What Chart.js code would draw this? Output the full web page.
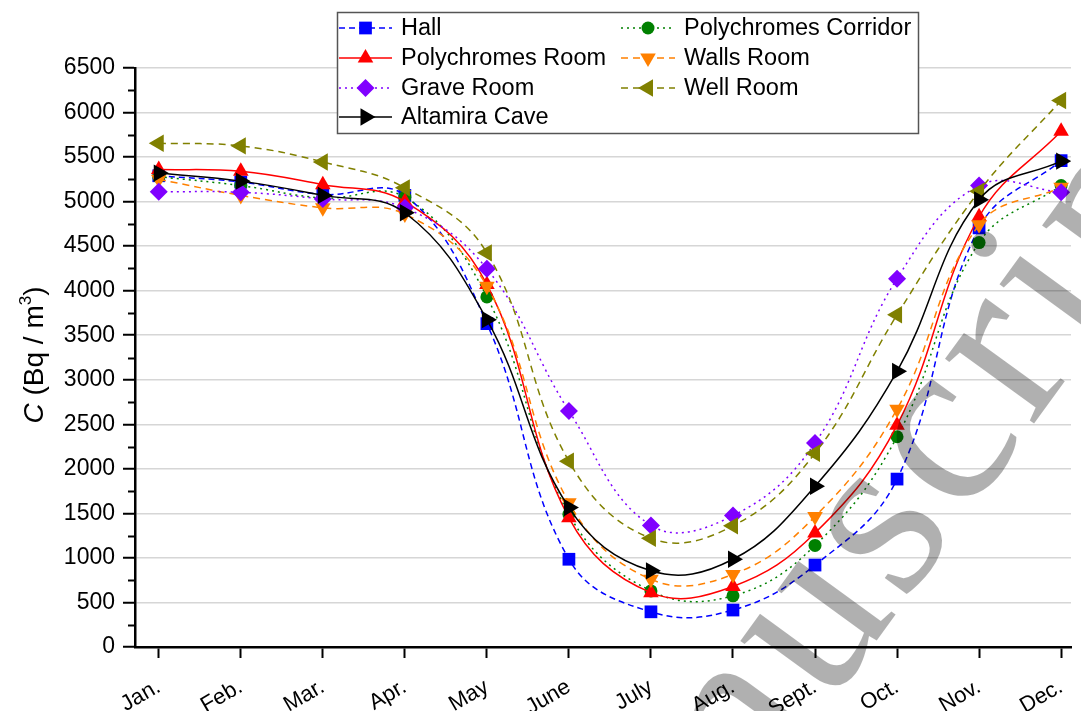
<!DOCTYPE html>
<html>
<head>
<meta charset="utf-8">
<script src="https://cdn.jsdelivr.net/npm/chart.js@4/dist/chart.umd.min.js"></script>
<style>
  html, body { margin: 0; padding: 0; background: #fff; overflow: hidden; }
  #wrap { width: 1081px; height: 711px; }
</style>
</head>
<body>
<div id="wrap"><canvas id="radonChart" width="1081" height="711"></canvas></div>
<script>
// monthly radon concentration, C (Bq / m3)
const months = ['Jan.', 'Feb.', 'Mar.', 'Apr.', 'May', 'June', 'July', 'Aug.', 'Sept.', 'Oct.', 'Nov.', 'Dec.'];
const hall      = [5290, 5220, 5080, 5070, 3630, 985, 395, 415, 920, 1885, 4705, 5460];
const corridor  = [5280, 5180, 5040, 5050, 3930, 1490, 630, 575, 1140, 2360, 4540, 5180];
const polyRoom  = [5360, 5340, 5190, 5000, 4070, 1450, 610, 680, 1280, 2490, 4830, 5790];
const wallsRoom = [5250, 5070, 4930, 4860, 4050, 1620, 760, 815, 1465, 2670, 4740, 5160];
const graveRoom = [5110, 5105, 5030, 4930, 4245, 2650, 1365, 1475, 2290, 4135, 5180, 5105];
const wellRoom  = [5655, 5625, 5445, 5155, 4425, 2085, 1220, 1360, 2175, 3730, 5115, 6135];
const altamira  = [5320, 5230, 5070, 4875, 3675, 1565, 855, 985, 1805, 3095, 5020, 5455];
const yTicks = [0, 500, 1000, 1500, 2000, 2500, 3000, 3500, 4000, 4500, 5000, 5500, 6000, 6500];

const FONT = '"Liberation Sans", Arial, sans-serif';

function toPoints(arr) {
    return arr.map((v, i) => ({ x: i + 1, y: v }));
}

// series styles, in legend order (row by row, two columns)
const series = [
    { label: 'Hall',                 data: hall,      color: '#0000ff', dash: [6, 4], style: 'rect',     radius: 9,  rot: 0 },
    { label: 'Polychromes Corridor', data: corridor,  color: '#008000', dash: [2, 4], style: 'circle',   radius: 6.5, rot: 0 },
    { label: 'Polychromes Room',     data: polyRoom,  color: '#ff0000', dash: [],     style: 'triangle', radius: 9,  rot: 0 },
    { label: 'Walls Room',           data: wallsRoom, color: '#ff8000', dash: [7, 5], style: 'triangle', radius: 9,  rot: 180 },
    { label: 'Grave Room',           data: graveRoom, color: '#8000ff', dash: [2, 4], style: 'rectRot',  radius: 9,  rot: 0 },
    { label: 'Well Room',            data: wellRoom,  color: '#808000', dash: [7, 5], style: 'triangle', radius: 10, rot: -90 },
    { label: 'Altamira Cave',        data: altamira,  color: '#000000', dash: [],     style: 'triangle', radius: 10, rot: 90 }
];

const datasets = series.map((s, i) => ({
    label: s.label,
    data: toPoints(s.data),
    borderColor: s.color,
    backgroundColor: s.color,
    borderWidth: 1.5,
    borderDash: s.dash,
    tension: 0.4,
    pointStyle: s.style,
    pointRadius: s.radius,
    pointRotation: s.rot,
    pointBackgroundColor: s.color,
    pointBorderColor: s.color,
    pointBorderWidth: 0,
    order: series.length - i
}));

// legend box, minor ticks, axis title and watermark
const extras = {
    id: 'extras',
    afterDraw(chart) {
        const ctx = chart.ctx;
        const y = chart.scales.y;
        const area = chart.chartArea;

        // minor y ticks
        ctx.save();
        ctx.strokeStyle = '#000';
        ctx.lineWidth = 2;
        for (let v = 250; v < 6500; v += 500) {
            const py = Math.round(y.getPixelForValue(v)) + 0.5;
            ctx.beginPath();
            ctx.moveTo(area.left - 7, py);
            ctx.lineTo(area.left, py);
            ctx.stroke();
        }
        ctx.restore();

        // y axis title: C (Bq / m3)
        ctx.save();
        ctx.translate(34, 355);
        ctx.rotate(-Math.PI / 2);
        ctx.fillStyle = '#000';
        ctx.textBaseline = 'alphabetic';
        const parts = [
            { t: 'C', f: 'italic 28px ' + FONT, dy: 0 },
            { t: ' (Bq / m', f: '28px ' + FONT, dy: 0 },
            { t: '3', f: '17px ' + FONT, dy: -12 },
            { t: ')', f: '28px ' + FONT, dy: 0 }
        ];
        let total = 0;
        parts.forEach(p => { ctx.font = p.f; p.w = ctx.measureText(p.t).width; total += p.w; });
        let x = -total / 2;
        parts.forEach(p => { ctx.font = p.f; ctx.fillText(p.t, x, 9 + p.dy); x += p.w; });
        ctx.restore();

        // legend
        ctx.save();
        ctx.fillStyle = '#fff';
        ctx.fillRect(337, 12, 582, 122);
        ctx.strokeStyle = '#555';
        ctx.lineWidth = 1.5;
        ctx.strokeRect(337.5, 12.5, 581, 121);
        const rows = [28, 58, 88, 117];
        const cols = [{ x0: 339, x1: 392, tx: 401 }, { x0: 621, x1: 675, tx: 684 }];
        ctx.font = '23.5px ' + FONT;
        ctx.textBaseline = 'middle';
        series.forEach((s, i) => {
            const c = cols[i % 2];
            const ry = rows[Math.floor(i / 2)];
            ctx.strokeStyle = s.color;
            ctx.lineWidth = 1.5;
            ctx.setLineDash(s.dash);
            ctx.beginPath();
            ctx.moveTo(c.x0, ry);
            ctx.lineTo(c.x1, ry);
            ctx.stroke();
            ctx.setLineDash([]);
            ctx.fillStyle = s.color;
            Chart.helpers.drawPoint(ctx, {
                pointStyle: s.style, radius: s.radius, rotation: s.rot, borderWidth: 0
            }, (c.x0 + c.x1) / 2, ry);
            ctx.fillStyle = '#000';
            ctx.fillText(s.label, c.tx, ry + 1);
        });
        ctx.restore();

        // watermark
        ctx.save();
        ctx.translate(553, 1086);
        ctx.rotate(-54 * Math.PI / 180);
        ctx.font = '240px "Liberation Serif", "Times New Roman", serif';
        ctx.letterSpacing = '9px';
        ctx.fillStyle = 'rgba(0, 0, 0, 0.31)';
        ctx.textBaseline = 'alphabetic';
        ctx.fillText('Manuscript', 0, 0);
        ctx.restore();
    }
};

const ctx = document.getElementById('radonChart').getContext('2d');
const radonChart = new Chart(ctx, {
    type: 'line',
    data: { datasets: datasets },
    options: {
        responsive: false,
        animation: false,
        layout: { padding: { top: 68, right: 0, bottom: 0, left: 0 } },
        plugins: {
            legend: { display: false },
            tooltip: { enabled: false }
        },
        scales: {
            x: {
                type: 'linear',
                min: 0.7105,
                max: 12.1205,
                afterBuildTicks(scale) {
                    scale.ticks = months.map((m, i) => ({ value: i + 1 }));
                },
                afterFit(scale) {
                    scale.height = 64;
                    scale.paddingLeft = 0;
                    scale.paddingRight = 0;
                },
                ticks: {
                    autoSkip: false,
                    minRotation: 30,
                    maxRotation: 30,
                    padding: 16,
                    color: '#000',
                    font: { family: FONT, size: 22 },
                    callback: (v) => months[v - 1]
                },
                grid: {
                    drawOnChartArea: false,
                    drawTicks: true,
                    tickLength: 11,
                    tickWidth: 2,
                    tickColor: '#000'
                },
                border: { color: '#000', width: 2.5 }
            },
            y: {
                min: 0,
                max: 6500,
                afterBuildTicks(scale) {
                    scale.ticks = yTicks.map(v => ({ value: v }));
                },
                afterFit(scale) {
                    scale.width = 135;
                },
                ticks: {
                    padding: 8,
                    color: '#000',
                    font: { family: FONT, size: 23 },
                    callback: (v) => String(v)
                },
                grid: {
                    color: '#d6d6d6',
                    lineWidth: 1.5,
                    tickLength: 12,
                    tickWidth: 2,
                    tickColor: '#000'
                },
                border: { color: '#000', width: 2.5 }
            }
        }
    },
    plugins: [extras]
});
</script>
</body>
</html>
